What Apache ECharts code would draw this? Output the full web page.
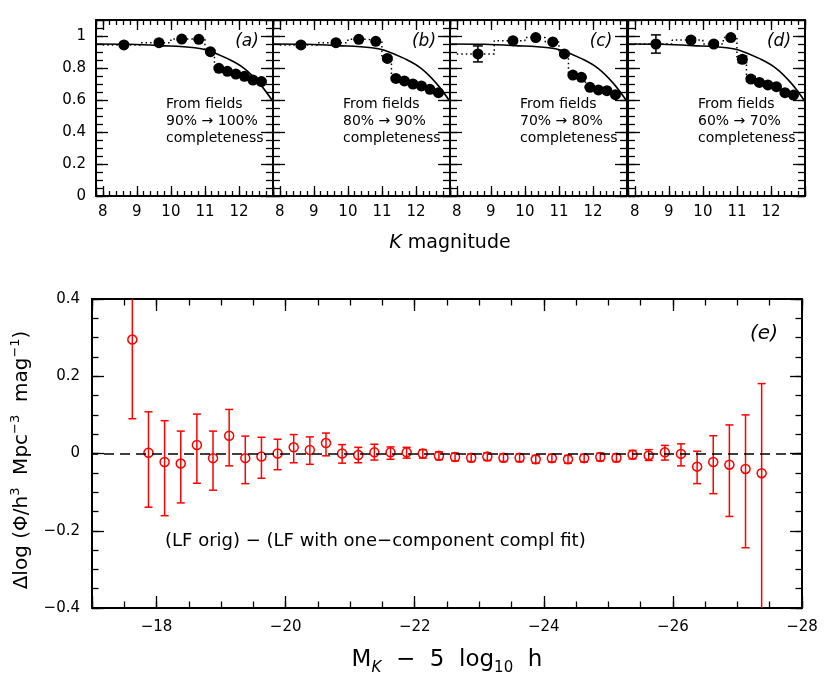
<!DOCTYPE html>
<html>
<head>
<meta charset="utf-8">
<title>Completeness and LF residuals</title>
<script src="https://cdn.jsdelivr.net/npm/echarts@6/dist/echarts.min.js"></script>
<style>
  html, body { margin: 0; padding: 0; background: #fff; }
  #chart { width: 830px; height: 686px; }
</style>
</head>
<body>
<div id="chart"></div>
<script>
// ---- data: top panels (completeness vs K magnitude) ----
var kMag = [8.62, 9.65, 10.32, 10.82, 11.16, 11.41, 11.66, 11.91, 12.16, 12.41, 12.66];
var binEdges = [8.0, 9.1, 10.0, 10.6, 11.0, 11.28, 11.53, 11.78, 12.03, 12.28, 12.53, 12.78];
var complA = [0.944, 0.958, 0.981, 0.979, 0.902, 0.798, 0.779, 0.762, 0.748, 0.725, 0.715];
var complB = [0.944, 0.958, 0.979, 0.967, 0.860, 0.735, 0.719, 0.700, 0.688, 0.667, 0.646];
var complC = [0.888, 0.971, 0.990, 0.963, 0.888, 0.756, 0.742, 0.679, 0.663, 0.658, 0.633];
var complD = [0.950, 0.975, 0.950, 0.990, 0.854, 0.731, 0.710, 0.694, 0.683, 0.646, 0.631];
var errA = [0.006, 0.006, 0.006, 0.006, 0.008, 0.008, 0.006, 0.006, 0.006, 0.006, 0.006];
var errB = [0.012, 0.006, 0.006, 0.006, 0.008, 0.008, 0.006, 0.006, 0.006, 0.006, 0.006];
var errC = [0.050, 0.008, 0.006, 0.006, 0.010, 0.008, 0.006, 0.006, 0.006, 0.006, 0.006];
var errD = [0.057, 0.012, 0.012, 0.008, 0.020, 0.015, 0.010, 0.010, 0.008, 0.008, 0.008];
// fitted completeness curve (same in all four panels)
var fitK = [7.8, 8.8, 9.7, 10.7, 11.05, 11.65, 12.15, 12.6, 13.0];
var fitC = [0.950, 0.948, 0.940, 0.927, 0.913, 0.860, 0.798, 0.704, 0.590];
var panelTags = ['(a)', '(b)', '(c)', '(d)'];
var panelRanges = ['90% \u2192 100%', '80% \u2192 90%', '70% \u2192 80%', '60% \u2192 70%'];

// ---- data: bottom panel (LF residuals) ----
var absMag = [-17.625, -17.875, -18.125, -18.375, -18.625, -18.875, -19.125, -19.375, -19.625, -19.875,
  -20.125, -20.375, -20.625, -20.875, -21.125, -21.375, -21.625, -21.875, -22.125, -22.375,
  -22.625, -22.875, -23.125, -23.375, -23.625, -23.875, -24.125, -24.375, -24.625, -24.875,
  -25.125, -25.375, -25.625, -25.875, -26.125, -26.375, -26.625, -26.875, -27.125, -27.375];
var dLogPhi = [0.295, 0.002, -0.022, -0.026, 0.022, -0.012, 0.046, -0.012, -0.008, 0.000,
  0.016, 0.009, 0.027, 0.000, -0.004, 0.003, 0.003, 0.003, 0.000, -0.006,
  -0.009, -0.011, -0.008, -0.011, -0.011, -0.015, -0.012, -0.015, -0.012, -0.009,
  -0.011, -0.003, -0.005, 0.003, -0.001, -0.034, -0.022, -0.029, -0.040, -0.051];
var barTop = [0.520, 0.108, 0.085, 0.058, 0.102, 0.058, 0.114, 0.045, 0.042, 0.037,
  0.049, 0.043, 0.053, 0.023, 0.016, 0.024, 0.017, 0.016, 0.010, 0.004,
  0.001, -0.001, 0.002, -0.001, -0.001, -0.005, -0.002, -0.005, -0.002, 0.001,
  -0.001, 0.008, 0.010, 0.021, 0.025, 0.006, 0.046, 0.074, 0.100, 0.181];
var barBottom = [0.090, -0.139, -0.161, -0.128, -0.077, -0.095, -0.032, -0.078, -0.064, -0.042,
  -0.024, -0.028, -0.006, -0.025, -0.024, -0.017, -0.015, -0.012, -0.012, -0.016,
  -0.019, -0.021, -0.018, -0.021, -0.021, -0.025, -0.022, -0.025, -0.022, -0.019,
  -0.021, -0.014, -0.018, -0.017, -0.032, -0.078, -0.104, -0.163, -0.244, -0.520];

var FONT = 'DejaVu Sans';
var chart = echarts.init(document.getElementById('chart'));

var grids = [], xAxes = [], yAxes = [], series = [], graphics = [];

function sameTick(v, step) {
  return Math.abs(v / step - Math.round(v / step)) < 1e-6;
}
function minus(s) { return String(s).replace('-', '\u2212'); }

// builds a framed panel: major + minor ticks on all four sides, pointing inward
function addPanel(box, o) {
  var g = grids.length;
  grids.push({ left: box[0], top: box[1], width: box[2], height: box[3], containLabel: false });
  var ax = { x: xAxes.length, y: yAxes.length };
  ['bottom', 'top'].forEach(function (pos, k) {
    [[o.xMaj, o.xTick], [o.xMinor, o.xTickMinor]].forEach(function (t, m) {
      var a = {
        type: 'value', gridIndex: g, position: pos, min: o.xmin, max: o.xmax, inverse: !!o.inverse,
        axisLine: { show: m === 0, onZero: false, lineStyle: { color: '#000', width: 2 } },
        axisTick: { show: true, inside: true, length: t[1], lineStyle: { color: '#000', width: 1.3 } },
        axisLabel: {
          show: k === 0 && m === 0 && !!o.xFmt, formatter: o.xFmt, margin: o.xMargin,
          color: '#000', fontFamily: FONT, fontSize: o.fontSize
        },
        splitLine: { show: false }
      };
      if (o.xNice && m === 0) { a.minInterval = t[0]; a.maxInterval = t[0]; }
      else a.interval = t[0];
      xAxes.push(a);
    });
  });
  ['left', 'right'].forEach(function (pos, k) {
    [[o.yMaj, o.yTick], [o.yMinor, o.yTickMinor]].forEach(function (t, m) {
      yAxes.push({
        type: 'value', gridIndex: g, position: pos, min: o.ymin, max: o.ymax, interval: t[0],
        axisLine: { show: m === 0, onZero: false, lineStyle: { color: '#000', width: 2 } },
        axisTick: { show: true, inside: true, length: t[1], lineStyle: { color: '#000', width: 1.3 } },
        axisLabel: {
          show: k === 0 && m === 0 && !!o.yFmt, formatter: o.yFmt, margin: o.yMargin,
          color: '#000', fontFamily: FONT, fontSize: o.fontSize
        },
        splitLine: { show: false }
      });
    });
  });
  return ax;
}

function errorBars(ax, xs, lo, hi, cap, color, width) {
  return {
    type: 'custom', xAxisIndex: ax.x, yAxisIndex: ax.y, clip: true, z: 3, silent: true,
    data: xs.map(function (x, i) { return [x, lo[i], hi[i]]; }),
    renderItem: function (params, api) {
      var a = api.coord([api.value(0), api.value(1)]);
      var b = api.coord([api.value(0), api.value(2)]);
      var st = { stroke: color, lineWidth: width, fill: null };
      return {
        type: 'group', children: [
          { type: 'line', shape: { x1: a[0], y1: a[1], x2: b[0], y2: b[1] }, style: st },
          { type: 'line', shape: { x1: a[0] - cap, y1: a[1], x2: a[0] + cap, y2: a[1] }, style: st },
          { type: 'line', shape: { x1: b[0] - cap, y1: b[1], x2: b[0] + cap, y2: b[1] }, style: st }
        ]
      };
    }
  };
}

// ---- top four panels ----
var topLefts = [96, 273, 450, 628];
var topSets = [[complA, errA], [complB, errB], [complC, errC], [complD, errD]];

topSets.forEach(function (set, p) {
  var vals = set[0], err = set[1];
  var ax = addPanel([topLefts[p], 20, 177, 176], {
    xmin: 7.8, xmax: 13.0, xMaj: 1, xMinor: 0.2, xNice: true, xTick: 10, xTickMinor: 5,
    ymin: 0, ymax: 1.1, yMaj: 0.2, yMinor: 0.05, yTick: 12, yTickMinor: 7,
    fontSize: 15, xMargin: 9, yMargin: 10,
    xFmt: function (v) { return (sameTick(v, 1) && v < 12.9) ? String(Math.round(v)) : ''; },
    yFmt: p === 0 ? function (v) { return sameTick(v, 0.2) ? String(+v.toFixed(1)) : ''; } : null
  });

  // dotted step outline of the bins
  var step = [];
  vals.forEach(function (v, i) {
    step.push([binEdges[i], v]);
    step.push([binEdges[i + 1], v]);
  });
  series.push({
    type: 'line', xAxisIndex: ax.x, yAxisIndex: ax.y, data: step, symbol: 'none', silent: true,
    lineStyle: { color: '#000', width: 1.5, type: [1.5, 3] }, z: 1
  });
  series.push({
    type: 'line', xAxisIndex: ax.x, yAxisIndex: ax.y, smooth: 0.4, symbol: 'none', silent: true,
    data: fitK.map(function (k, i) { return [k, fitC[i]]; }),
    lineStyle: { color: '#000', width: 1.6 }, z: 2
  });
  series.push(errorBars(ax, kMag,
    vals.map(function (v, i) { return v - err[i]; }),
    vals.map(function (v, i) { return v + err[i]; }), 5, '#000', 1.5));
  series.push({
    type: 'scatter', xAxisIndex: ax.x, yAxisIndex: ax.y, symbol: 'circle', symbolSize: 11,
    data: kMag.map(function (k, i) { return [k, vals[i]]; }),
    itemStyle: { color: '#000', opacity: 1 }, z: 4
  });

  var L = topLefts[p];
  graphics.push({ type: 'text', x: L + 151, y: 42, style: {
    text: panelTags[p], font: 'italic 17px "' + FONT + '"', fill: '#000',
    textAlign: 'center', textVerticalAlign: 'middle' } });
  graphics.push({ type: 'text', x: L + 70, y: 96, style: {
    text: 'From fields\n' + panelRanges[p] + '\ncompleteness',
    font: '14px "' + FONT + '"', lineHeight: 17, fill: '#000',
    textAlign: 'left', textVerticalAlign: 'top' } });
});

// ---- bottom panel ----
var axE = addPanel([92, 299, 710, 309], {
  xmin: -28, xmax: -17, inverse: true, xMaj: 2, xMinor: 0.5, xTick: 12, xTickMinor: 6.5,
  ymin: -0.4, ymax: 0.4, yMaj: 0.2, yMinor: 0.05, yTick: 12, yTickMinor: 6.5,
  fontSize: 15, xMargin: 12, yMargin: 12,
  xFmt: function (v) { return sameTick(v, 2) ? minus(Math.round(v)) : ''; },
  yFmt: function (v) { return sameTick(v, 0.2) ? minus(+v.toFixed(1)) : ''; }
});
series.push(errorBars(axE, absMag, barBottom, barTop, 4, '#ff0000', 1.5));
series.push({
  type: 'scatter', xAxisIndex: axE.x, yAxisIndex: axE.y, symbol: 'circle', symbolSize: 9,
  data: absMag.map(function (m, i) { return [m, dLogPhi[i]]; }),
  itemStyle: { color: 'rgba(0,0,0,0)', borderColor: '#ff0000', borderWidth: 1.5, opacity: 1 }, z: 4,
  markLine: {
    silent: true, symbol: ['none', 'none'], label: { show: false },
    lineStyle: { color: '#000', width: 1.5, type: [10, 6] },
    data: [{ yAxis: 0 }]
  }
});

graphics.push({ type: 'text', x: 764, y: 334, style: {
  text: '(e)', font: 'italic 20px "' + FONT + '"', fill: '#000',
  textAlign: 'center', textVerticalAlign: 'middle' } });
graphics.push({ type: 'text', x: 165, y: 541, style: {
  text: '(LF orig) \u2212 (LF with one\u2212component compl fit)', font: '18px "' + FONT + '"',
  fill: '#000', textAlign: 'left', textVerticalAlign: 'middle' } });

// axis titles
graphics.push({ type: 'text', x: 450, y: 243, style: {
  text: '{it|K} magnitude', font: '19px "' + FONT + '"', fill: '#000',
  textAlign: 'center', textVerticalAlign: 'middle',
  rich: { it: { fontStyle: 'italic', fontFamily: FONT, fontSize: 19 } } } });
graphics.push({ type: 'text', x: 447, y: 660, style: {
  text: 'M{sub|K}  \u2212  5  log{sub2|10}  h', font: '23px "' + FONT + '"', fill: '#000',
  textAlign: 'center', textVerticalAlign: 'middle',
  rich: {
    sub: { fontStyle: 'italic', fontFamily: FONT, fontSize: 15, verticalAlign: 'bottom', lineHeight: 32 },
    sub2: { fontFamily: FONT, fontSize: 15, verticalAlign: 'bottom', lineHeight: 32 }
  } } });
graphics.push({ type: 'text', x: 22, y: 460, rotation: Math.PI / 2, style: {
  text: '\u0394log (\u03A6/h{sup|3}  Mpc{sup|\u22123}  mag{sup|\u22121})', font: '20px "' + FONT + '"',
  fill: '#000', textAlign: 'center', textVerticalAlign: 'middle',
  rich: { sup: { fontFamily: FONT, fontSize: 13, verticalAlign: 'top', lineHeight: 26 } } } });

chart.setOption({
  animation: false,
  backgroundColor: '#fff',
  grid: grids,
  xAxis: xAxes,
  yAxis: yAxes,
  series: series,
  graphic: graphics
});
</script>
</body>
</html>
